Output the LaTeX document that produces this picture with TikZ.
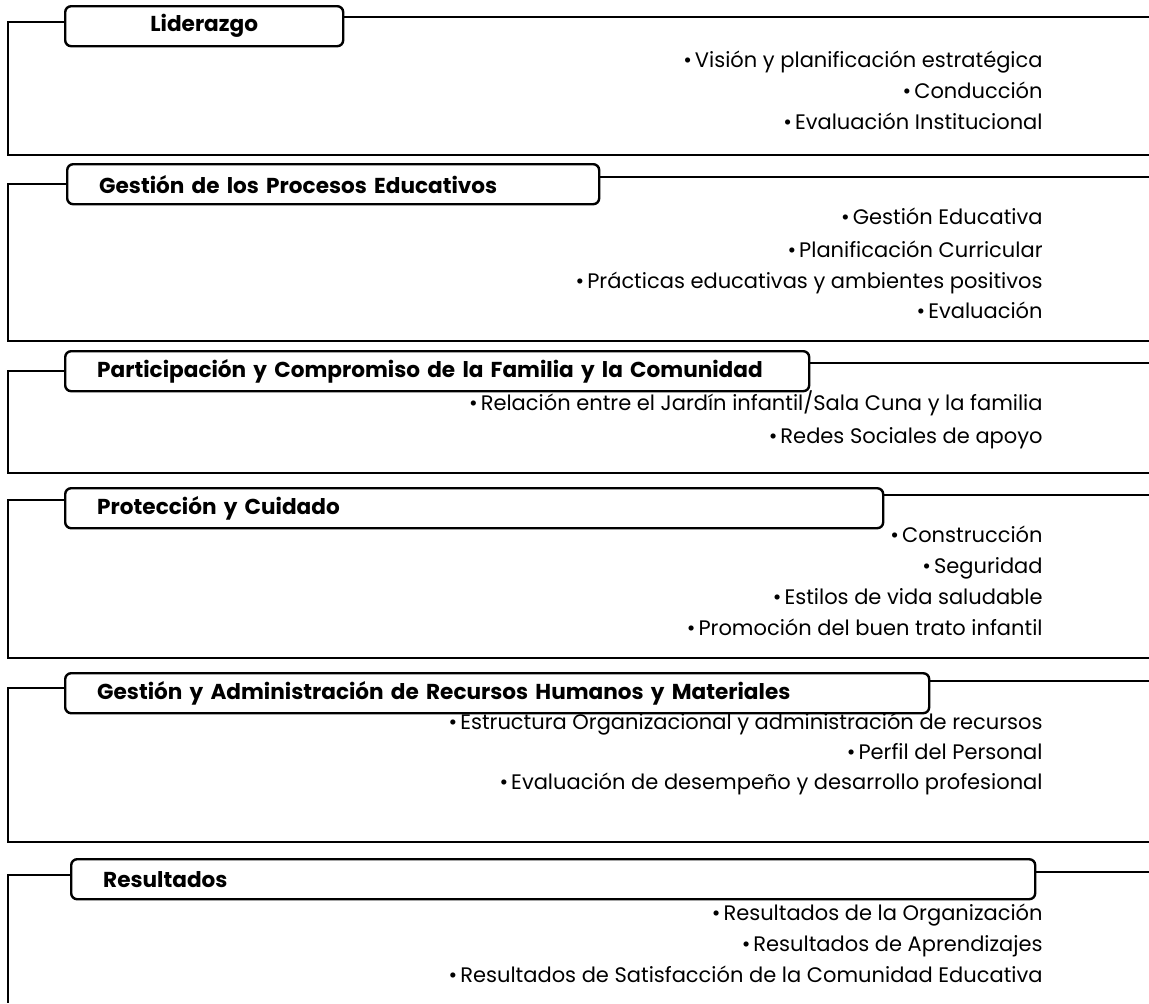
\documentclass[tikz,border=0pt]{standalone}
\usepackage{fontspec}
\setmainfont{Poppins}
\tikzset{
  hdr/.style = {draw, line width=1.2pt, rounded corners=3pt,
    minimum height=20pt, inner xsep=16pt, inner ysep=0pt,
    anchor=north west, text width=#1, align=left,
    font=\fontsize{10.8}{12}\selectfont\bfseries},
  item/.style = {anchor=east, inner sep=0pt, text height=1.6ex, text depth=0.3ex,
    font=\fontsize{10.5}{12}\selectfont},
  rule/.style = {line width=0.7pt}
}
\newcommand{\bul}{\textbullet\hspace{1.5pt}}

\begin{document}
\begin{tikzpicture}[x=0.5pt,y=-0.5pt]
  \useasboundingbox (0,0) rectangle (1149,1003);

  % Liderazgo
  \node[hdr=107pt,align=center] (lid) at (64,5) {Liderazgo};
  \coordinate (lidL) at (8,22);
  \coordinate (lidR) at (1149,17);
  \coordinate (lidB) at (1149,155);
  \draw[rule] (lidL -| lid.west) -- (lidL) |- (lidB);
  \draw[rule] (lidR -| lid.east) -- (lidR);
  \node[item] (lid-a) at (1043,60) {\bul Visión y planificación estratégica};
  \node[item] (lid-b) at (1043,91) {\bul Conducción};
  \node[item] (lid-c) at (1043,122) {\bul Evaluación Institucional};

  % Procesos educativos
  \node[hdr=234pt] (pro) at (66,163) {Gestión de los Procesos Educativos};
  \coordinate (proL) at (8,184);
  \coordinate (proR) at (1149,177);
  \coordinate (proB) at (1149,341);
  \draw[rule] (proL -| pro.west) -- (proL) |- (proB);
  \draw[rule] (proR -| pro.east) -- (proR);
  \node[item] (pro-a) at (1043,217) {\bul Gestión Educativa};
  \node[item] (pro-b) at (1043,250) {\bul Planificación Curricular};
  \node[item] (pro-c) at (1043,281) {\bul Prácticas educativas y ambientes positivos};
  \node[item] (pro-d) at (1043,311) {\bul Evaluación};

  % Familia y comunidad
  \node[hdr=340pt] (fam) at (64,350) {Participación y Compromiso de la Familia y la Comunidad};
  \coordinate (famL) at (8,371);
  \coordinate (famR) at (1149,363);
  \coordinate (famB) at (1149,473);
  \draw[rule] (famL -| fam.west) -- (famL) |- (famB);
  \draw[rule] (famR -| fam.east) -- (famR);
  \node[item] (fam-a) at (1043,403) {\bul Relación entre el Jardín infantil/Sala Cuna y la familia};
  \node[item] (fam-b) at (1043,436) {\bul Redes Sociales de apoyo};

  % Proteccion
  \node[hdr=377pt] (cui) at (64,487) {Protección y Cuidado};
  \coordinate (cuiL) at (8,500);
  \coordinate (cuiR) at (1149,495);
  \coordinate (cuiB) at (1149,658);
  \draw[rule] (cuiL -| cui.west) -- (cuiL) |- (cuiB);
  \draw[rule] (cuiR -| cui.east) -- (cuiR);
  \node[item] (cui-a) at (1043,535) {\bul Construcción};
  \node[item] (cui-b) at (1043,566) {\bul Seguridad};
  \node[item] (cui-c) at (1043,597) {\bul Estilos de vida saludable};
  \node[item] (cui-d) at (1043,628) {\bul Promoción del buen trato infantil};

  % Recursos
  \node[hdr=400pt] (rec) at (64,672) {Gestión y Administración de Recursos Humanos y Materiales};
  \coordinate (recL) at (8,688);
  \coordinate (recR) at (1149,681);
  \coordinate (recB) at (1149,842);
  \draw[rule] (recL -| rec.west) -- (recL) |- (recB);
  \draw[rule] (recR -| rec.east) -- (recR);
  \node[item] (rec-a) at (1043,722) {\bul Estructura Organizacional y administración de recursos};
  \node[item] (rec-b) at (1043,752) {\bul Perfil del Personal};
  \node[item] (rec-c) at (1043,782) {\bul Evaluación de desempeño y desarrollo profesional};

  % Resultados
  \node[hdr=450pt] (res) at (70,858) {Resultados};
  \coordinate (resL) at (8,875);
  \coordinate (resR) at (1149,872);
  \coordinate (resB) at (8,1003);
  \draw[rule] (resL -| res.west) -- (resL) -- (resB);
  \draw[rule] (resR -| res.east) -- (resR);
  \node[item] (res-a) at (1043,913) {\bul Resultados de la Organización};
  \node[item] (res-b) at (1043,944) {\bul Resultados de Aprendizajes};
  \node[item] (res-c) at (1043,975) {\bul Resultados de Satisfacción de la Comunidad Educativa};
\end{tikzpicture}
\end{document}
